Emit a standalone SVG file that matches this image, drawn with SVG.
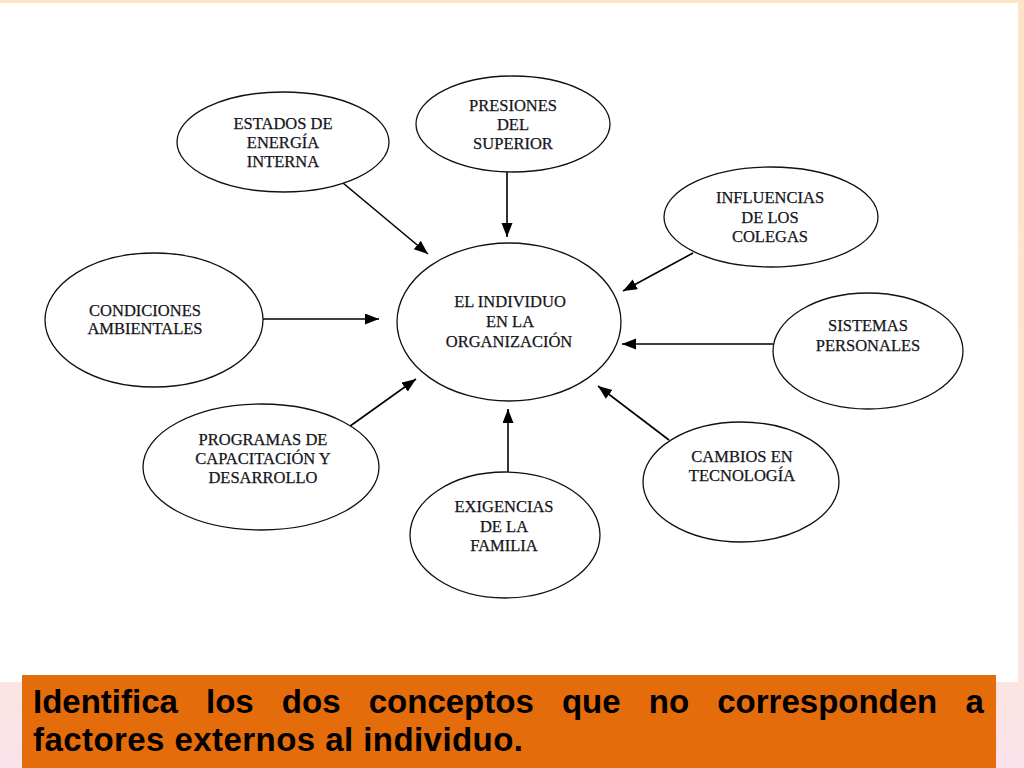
<svg xmlns="http://www.w3.org/2000/svg" width="1024" height="768" viewBox="0 0 1024 768">
<defs>
<linearGradient id="bg" x1="0" y1="0" x2="0" y2="1">
<stop offset="0" stop-color="#fde4c6"/>
<stop offset="0.8" stop-color="#fce6da"/>
<stop offset="1" stop-color="#fbe2ec"/>
</linearGradient>
<marker id="ah" markerUnits="userSpaceOnUse" markerWidth="16" markerHeight="12" refX="14" refY="5.5" orient="auto">
<path d="M0,0 L14,5.5 L0,11 z" fill="#000"/>
</marker>
<style>
.n ellipse{fill:#fff;stroke:#111;stroke-width:1.3}
.n text{font-family:"Liberation Serif","Times New Roman",serif;font-size:16.5px;fill:#151520;stroke:#151520;stroke-width:0.25;text-anchor:middle}
#connectors line{stroke:#000;stroke-width:1.6;marker-end:url(#ah)}
.banner{font-family:"Liberation Sans",Arial,sans-serif;font-weight:bold;font-size:33px;fill:#000}
</style>
</defs>
<rect x="0" y="0" width="1024" height="768" fill="url(#bg)"/>
<rect x="0" y="3" width="1018" height="679" fill="#fff"/>

<g id="connectors">
<line x1="343" y1="183" x2="428" y2="254"/>
<line x1="507" y1="172" x2="507" y2="237"/>
<line x1="693" y1="253" x2="623" y2="291"/>
<line x1="773" y1="344" x2="622" y2="344"/>
<line x1="669" y1="440" x2="598" y2="386"/>
<line x1="508" y1="472" x2="508" y2="409"/>
<line x1="346" y1="429" x2="416" y2="379"/>
<line x1="263" y1="319" x2="379" y2="319"/>
</g>

<g id="n-centro" class="n">
<ellipse cx="509" cy="322" rx="112" ry="79"/>
<text x="510" y="307">EL INDIVIDUO</text>
<text x="510" y="327">EN LA</text>
<text x="509" y="347">ORGANIZACIÓN</text>
</g>
<g id="n-estados" class="n">
<ellipse cx="283" cy="142" rx="106" ry="50"/>
<text x="283" y="129">ESTADOS DE</text>
<text x="283" y="148">ENERGÍA</text>
<text x="283" y="167">INTERNA</text>
</g>
<g id="n-presiones" class="n">
<ellipse cx="513" cy="124" rx="97" ry="48"/>
<text x="513" y="111">PRESIONES</text>
<text x="513" y="130">DEL</text>
<text x="513" y="149">SUPERIOR</text>
</g>
<g id="n-influencias" class="n">
<ellipse cx="771" cy="217" rx="107" ry="50"/>
<text x="770" y="203">INFLUENCIAS</text>
<text x="770" y="223">DE LOS</text>
<text x="770" y="242">COLEGAS</text>
</g>
<g id="n-sistemas" class="n">
<ellipse cx="868" cy="351" rx="95" ry="58"/>
<text x="868" y="331">SISTEMAS</text>
<text x="868" y="351">PERSONALES</text>
</g>
<g id="n-cambios" class="n">
<ellipse cx="741" cy="482" rx="98" ry="60"/>
<text x="742" y="462">CAMBIOS EN</text>
<text x="742" y="481">TECNOLOGÍA</text>
</g>
<g id="n-exigencias" class="n">
<ellipse cx="505" cy="535" rx="95" ry="63"/>
<text x="504" y="512">EXIGENCIAS</text>
<text x="504" y="532">DE LA</text>
<text x="504" y="551">FAMILIA</text>
</g>
<g id="n-programas" class="n">
<ellipse cx="261" cy="467" rx="118" ry="63"/>
<text x="263" y="445">PROGRAMAS DE</text>
<text x="263" y="464">CAPACITACIÓN Y</text>
<text x="263" y="483">DESARROLLO</text>
</g>
<g id="n-condiciones" class="n">
<ellipse cx="154" cy="320" rx="109" ry="67"/>
<text x="145" y="316">CONDICIONES</text>
<text x="145" y="334">AMBIENTALES</text>
</g>

<g id="banner">
<rect x="22" y="675" width="974" height="93" fill="#e46c0a"/>
<text class="banner" x="33" y="713" word-spacing="19">Identifica los dos conceptos que no corresponden a</text>
<text class="banner" x="33" y="751" textLength="490" lengthAdjust="spacing">factores externos al individuo.</text>
</g>
</svg>
